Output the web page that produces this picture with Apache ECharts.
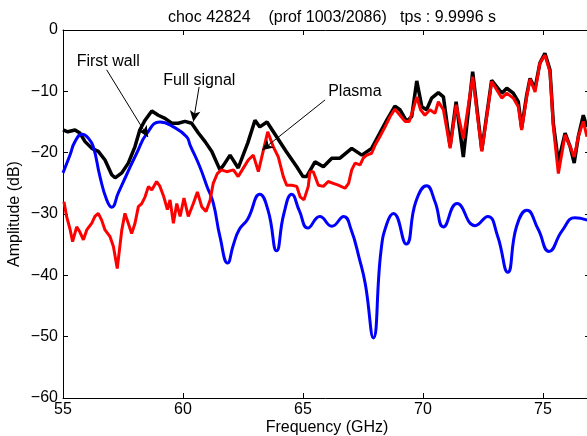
<!DOCTYPE html>
<html>
<head>
<meta charset="utf-8">
<script src="https://cdn.jsdelivr.net/npm/echarts@6/dist/echarts.min.js"></script>
<style>
  html, body { margin: 0; padding: 0; background: #fff; }
</style>
</head>
<body>
<div id="chart" style="width: 587px; height: 436px"></div>
<script>
// Full signal (black)
var fullFreq = [55.0, 55.2, 55.5, 55.7, 55.92, 56.2, 56.47, 56.75, 57.03, 57.17, 57.45, 57.72, 58.0, 58.2, 58.42, 58.7, 58.97, 59.25, 59.53, 59.8, 60.08, 60.36, 60.64, 60.92, 61.2, 61.54, 61.7, 61.96, 62.3, 62.7, 63.0, 63.2, 63.5, 63.9, 64.3, 64.74, 65.0, 65.15, 65.5, 65.85, 66.2, 66.54, 67.03, 67.45, 67.86, 68.2, 68.49, 68.83, 69.04, 69.32, 69.53, 69.74, 69.95, 70.15, 70.36, 70.64, 70.85, 71.13, 71.38, 71.68, 72.07, 72.45, 72.86, 73.28, 73.49, 73.76, 73.97, 74.11, 74.32, 74.46, 74.67, 74.87, 75.08, 75.29, 75.43, 75.64, 75.92, 76.13, 76.3, 76.47, 76.68, 76.83];
var fullAmp = [-16.3, -16.6, -16.3, -16.8, -18.2, -19.3, -19.8, -21.2, -23.6, -24.1, -23.3, -21.7, -19.0, -16.3, -14.7, -13.2, -13.9, -14.4, -15.2, -15.2, -14.9, -15.2, -16.8, -18.2, -19.8, -22.8, -22.0, -20.4, -22.5, -18.4, -14.7, -15.8, -15.0, -17.4, -19.8, -22.3, -23.9, -23.9, -21.5, -22.3, -20.9, -20.9, -19.3, -20.4, -19.3, -16.8, -14.7, -12.4, -13.0, -14.9, -14.1, -8.3, -12.5, -13.0, -11.1, -10.2, -10.9, -19.0, -11.7, -20.7, -6.8, -19.6, -8.2, -10.3, -9.5, -10.3, -11.7, -16.0, -10.6, -7.9, -9.5, -5.4, -3.8, -6.5, -15.2, -21.5, -16.8, -19.0, -21.7, -17.4, -13.9, -15.8];

// Plasma (red)
var plasmaFreq = [55.04, 55.15, 55.3, 55.4, 55.57, 55.7, 55.85, 55.99, 56.2, 56.33, 56.47, 56.61, 56.75, 56.96, 57.1, 57.26, 57.45, 57.58, 57.72, 57.86, 58.0, 58.14, 58.28, 58.42, 58.56, 58.7, 58.9, 59.04, 59.2, 59.35, 59.46, 59.6, 59.74, 59.88, 60.04, 60.22, 60.43, 60.6, 60.78, 60.96, 61.13, 61.26, 61.43, 61.6, 61.82, 62.1, 62.3, 62.5, 62.72, 62.93, 63.14, 63.35, 63.53, 63.76, 63.97, 64.18, 64.32, 64.53, 64.74, 64.88, 65.04, 65.22, 65.29, 65.43, 65.64, 65.85, 66.05, 66.26, 66.47, 66.75, 66.9, 67.03, 67.17, 67.38, 67.51, 67.65, 67.86, 68.0, 68.2, 68.42, 68.63, 68.83, 69.04, 69.25, 69.43, 69.6, 69.74, 69.9, 70.08, 70.29, 70.5, 70.64, 70.85, 71.0, 71.13, 71.38, 71.68, 72.07, 72.45, 72.86, 73.28, 73.49, 73.76, 73.97, 74.11, 74.32, 74.46, 74.67, 74.87, 75.08, 75.29, 75.43, 75.64, 75.92, 76.13, 76.3, 76.47, 76.68, 76.83];
var plasmaAmp = [-28.0, -30.4, -32.6, -34.5, -32.1, -32.9, -34.2, -32.6, -31.5, -30.4, -29.9, -31.0, -32.6, -33.7, -35.3, -38.9, -32.6, -29.9, -31.5, -33.2, -31.5, -28.8, -28.3, -27.2, -25.5, -26.1, -24.7, -25.5, -27.2, -29.3, -27.7, -31.5, -28.3, -30.4, -27.4, -30.4, -28.3, -26.4, -28.8, -29.6, -27.7, -25.0, -23.4, -22.8, -23.1, -22.8, -23.9, -22.6, -21.2, -20.4, -23.1, -19.6, -16.6, -19.0, -20.7, -23.9, -25.3, -25.3, -25.5, -27.2, -27.7, -25.5, -23.1, -23.1, -25.3, -25.5, -24.7, -25.0, -25.3, -25.8, -25.0, -22.8, -21.7, -22.0, -20.9, -20.4, -20.1, -18.8, -17.4, -15.8, -14.1, -12.9, -13.9, -14.9, -14.9, -12.8, -10.9, -13.0, -13.9, -13.0, -13.6, -11.7, -13.0, -16.3, -19.3, -12.2, -17.7, -7.6, -19.8, -8.4, -11.1, -10.3, -11.1, -12.5, -16.3, -10.9, -8.0, -10.1, -5.4, -4.1, -6.8, -15.8, -23.4, -17.1, -19.0, -20.7, -17.4, -14.9, -17.4];

// First wall (blue)
var wallFreq = [55.0, 55.3, 55.5, 55.8, 56.05, 56.26, 56.54, 56.82, 57.03, 57.3, 57.65, 58.07, 58.49, 59.04, 59.6, 60.15, 60.3, 60.7, 61.0, 61.26, 61.54, 61.86, 62.1, 62.35, 62.7, 63.2, 63.55, 63.9, 64.2, 64.53, 64.85, 65.2, 65.7, 66.2, 66.7, 67.0, 67.35, 67.6, 67.93, 68.25, 68.5, 68.77, 69.3, 69.7, 70.15, 70.5, 70.85, 71.42, 72.17, 72.7, 73.1, 73.53, 73.9, 74.33, 74.8, 75.25, 75.8, 76.33, 76.85];
var wallAmp = [-23.3, -20.3, -18.2, -17.0, -17.6, -19.0, -23.9, -27.7, -28.9, -26.6, -23.6, -20.1, -16.9, -15.0, -15.8, -17.4, -18.8, -22.3, -25.5, -28.2, -33.7, -38.0, -35.0, -32.5, -30.8, -26.8, -29.5, -36.0, -30.0, -26.8, -29.5, -32.3, -30.4, -32.0, -30.4, -32.5, -37.3, -41.5, -50.2, -36.0, -31.5, -29.9, -34.9, -28.0, -25.4, -28.0, -32.1, -28.3, -31.9, -30.4, -33.5, -39.5, -32.0, -29.4, -32.5, -36.1, -32.7, -30.6, -31.0];

var xTicks = [55, 60, 65, 70, 75];
var yTicks = [0, -10, -20, -30, -40, -50, -60];

function pairs(xs, ys) {
  return xs.map(function (x, i) { return [x, ys[i]]; });
}
function minus(v) {
  return v < 0 ? '\u2212' + Math.abs(v) : String(v);
}

var font = 'Liberation Sans, Arial, Helvetica, sans-serif';
var fs = 16;
var chart = echarts.init(document.getElementById('chart'));

var option = {
  animation: false,
  title: {
    text: 'choc 42824    (prof 1003/2086)   tps : 9.9996 s',
    left: 327,
    top: 5,
    textAlign: 'center',
    textStyle: { fontFamily: font, fontSize: fs, fontWeight: 'normal', color: '#000' }
  },
  grid: { left: 63, top: 30, width: 528, height: 368, outerBoundsMode: 'none', containLabel: false },
  xAxis: [
    {
      type: 'value', min: 55, max: 77, interval: 5,
      name: 'Frequency (GHz)', nameLocation: 'middle', nameGap: 22, nameMoveOverlap: false,
      nameTextStyle: { fontFamily: font, fontSize: fs, color: '#000' },
      axisLine: { onZero: false, lineStyle: { color: '#000', width: 1 } },
      axisTick: { inside: true, length: 5, lineStyle: { color: '#000' } },
      axisLabel: { fontFamily: font, fontSize: fs, color: '#000', margin: 4,
        formatter: function (v) { return xTicks.indexOf(v) >= 0 ? String(v) : ''; } },
      splitLine: { show: false }
    },
    {
      type: 'value', min: 55, max: 77, interval: 5, position: 'top',
      axisLine: { onZero: false, lineStyle: { color: '#000', width: 1 } },
      axisTick: { inside: true, length: 5, lineStyle: { color: '#000' } },
      axisLabel: { show: false },
      splitLine: { show: false }
    }
  ],
  yAxis: [
    {
      type: 'value', min: -60, max: 0, interval: 10,
      name: 'Amplitude (dB)', nameLocation: 'middle', nameGap: 40, nameRotate: 90, nameMoveOverlap: false,
      nameTextStyle: { fontFamily: font, fontSize: fs, color: '#000' },
      axisLine: { show: true, onZero: false, lineStyle: { color: '#000', width: 1 } },
      axisTick: { show: true, inside: true, length: 5, lineStyle: { color: '#000' } },
      axisLabel: { fontFamily: font, fontSize: fs, color: '#000', margin: 5,
        formatter: function (v) { return yTicks.indexOf(v) >= 0 ? minus(v) : ''; } },
      splitLine: { show: false }
    },
    {
      type: 'value', min: -60, max: 0, interval: 10, position: 'right',
      axisLine: { show: true, onZero: false, lineStyle: { color: '#000', width: 1 } },
      axisTick: { show: true, inside: true, length: 6, lineStyle: { color: '#000' } },
      axisLabel: { show: false },
      splitLine: { show: false }
    }
  ],
  series: [
    {
      name: 'Full signal', type: 'line', data: pairs(fullFreq, fullAmp),
      symbol: 'none', lineStyle: { color: '#000', width: 3.5 }, z: 2
    },
    {
      name: 'First wall', type: 'line', data: pairs(wallFreq, wallAmp),
      symbol: 'none', smooth: 0.5, lineStyle: { color: '#0000ff', width: 3 }, z: 3
    },
    {
      name: 'Plasma', type: 'line', data: pairs(plasmaFreq, plasmaAmp),
      symbol: 'none', lineStyle: { color: '#ff0000', width: 3 }, z: 4,
      markLine: {
        silent: true,
        symbol: ['none', 'arrow'],
        symbolSize: [8, 11],
        label: { show: false },
        lineStyle: { color: '#000', width: 1, type: 'solid' },
        data: [
          [{ coord: [56.82, -6.5] }, { coord: [58.54, -17.45] }],
          [{ coord: [60.67, -9.3] }, { coord: [60.43, -14.95] }],
          [{ coord: [65.92, -11.4] }, { coord: [63.29, -19.6] }]
        ]
      }
    }
  ]
};
chart.setOption(option);

// text annotations, placed in data space
var notes = [
  { text: 'First wall', at: [55.57, -5.2] },
  { text: 'Full signal', at: [59.18, -8.3] },
  { text: 'Plasma', at: [66.05, -10.1] }
];
chart.setOption({
  graphic: notes.map(function (n) {
    var p = chart.convertToPixel({ gridIndex: 0 }, n.at);
    return {
      type: 'text', x: p[0], y: p[1], z: 100,
      style: { text: n.text, fontFamily: font, fontSize: fs, fill: '#000', textVerticalAlign: 'middle' }
    };
  })
});
</script>
</body>
</html>
